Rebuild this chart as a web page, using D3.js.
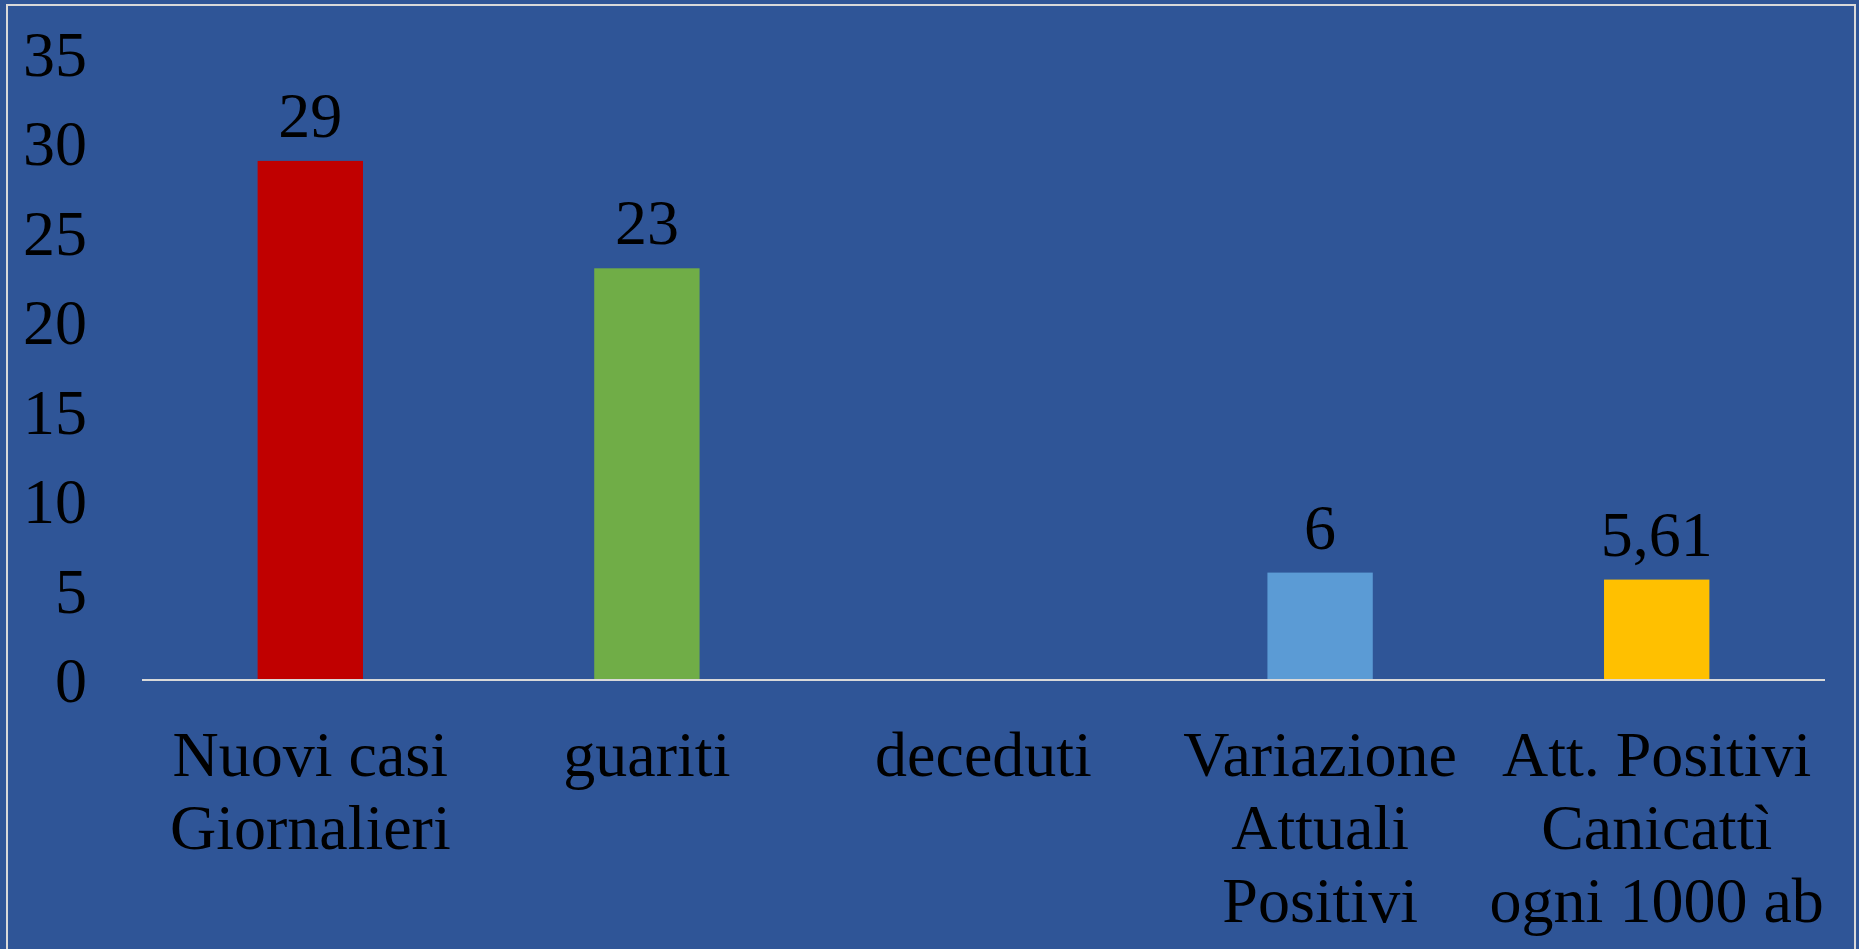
<!DOCTYPE html>
<html>
<head>
<meta charset="utf-8">
<script src="https://cdn.jsdelivr.net/npm/d3@7"></script>
<style>
  html, body { margin: 0; padding: 0; background: #2f5597; overflow: hidden; }
  text { font-family: 'Liberation Serif', 'Times New Roman', serif; fill: #000; }
</style>
</head>
<body>
<div id="chart"></div>
<script>
// data
const categories = [
  ['Nuovi casi', 'Giornalieri'],
  ['guariti'],
  ['deceduti'],
  ['Variazione', 'Attuali', 'Positivi'],
  ['Att. Positivi', 'Canicattì', 'ogni 1000 ab']
]
const values = [29, 23, 0, 6, 5.61]
const valueLabels = ['29', '23', '', '6', '5,61']
const barColors = ['#c00000', '#70ad47', '#5b9bd5', '#5b9bd5', '#ffc000']
const yTicks = [0, 5, 10, 15, 20, 25, 30, 35]

const width = 1859
const height = 949

const svg = d3
  .select('#chart')
  .append('svg')
  .attr('width', width)
  .attr('height', height)
  .attr('viewBox', [0, 0, width, height])

svg.append('rect')
  .attr('width', width)
  .attr('height', height)
  .attr('fill', '#2f5597')

// outer frame (bottom edge runs off the picture)
svg.append('rect')
  .attr('x', 7)
  .attr('y', 5)
  .attr('width', 1848)
  .attr('height', 960)
  .attr('fill', 'none')
  .attr('stroke', '#d9d9d9')
  .attr('stroke-width', 2)

const x = d3.scaleBand()
  .domain(d3.range(categories.length))
  .range([142, 1825])
  .paddingInner(0.687)
  .paddingOuter(0.3435)

const y = d3.scaleLinear()
  .domain([0, 35])
  .range([680, 53.5])

// y tick labels
svg.selectAll('.ytick')
  .data(yTicks)
  .enter()
  .append('text')
  .attr('class', 'ytick')
  .attr('x', 87)
  .attr('y', d => y(d))
  .attr('dy', '0.35em')
  .attr('text-anchor', 'end')
  .style('font-size', '64px')
  .text(d => d)

// bars
svg.selectAll('.bar')
  .data(values)
  .enter()
  .append('rect')
  .attr('class', 'bar')
  .attr('x', (d, i) => x(i))
  .attr('y', d => y(d))
  .attr('width', x.bandwidth())
  .attr('height', d => y(0) - y(d))
  .attr('fill', (d, i) => barColors[i])

// baseline
svg.append('line')
  .attr('x1', 142)
  .attr('x2', 1825)
  .attr('y1', y(0))
  .attr('y2', y(0))
  .attr('stroke', '#d9d9d9')
  .attr('stroke-width', 2)

// value labels
svg.selectAll('.vlabel')
  .data(values)
  .enter()
  .append('text')
  .attr('class', 'vlabel')
  .attr('x', (d, i) => x(i) + x.bandwidth() / 2)
  .attr('y', d => y(d) - 24)
  .attr('text-anchor', 'middle')
  .style('font-size', '64px')
  .text((d, i) => valueLabels[i])

// category labels
const cat = svg.selectAll('.clabel')
  .data(categories)
  .enter()
  .append('text')
  .attr('class', 'clabel')
  .attr('text-anchor', 'middle')
  .style('font-size', '64px')

cat.selectAll('tspan')
  .data((d, i) => d.map(line => ({ line, i })))
  .enter()
  .append('tspan')
  .attr('x', d => x(d.i) + x.bandwidth() / 2)
  .attr('y', (d, j) => 776 + j * 73)
  .text(d => d.line)
</script>
</body>
</html>
